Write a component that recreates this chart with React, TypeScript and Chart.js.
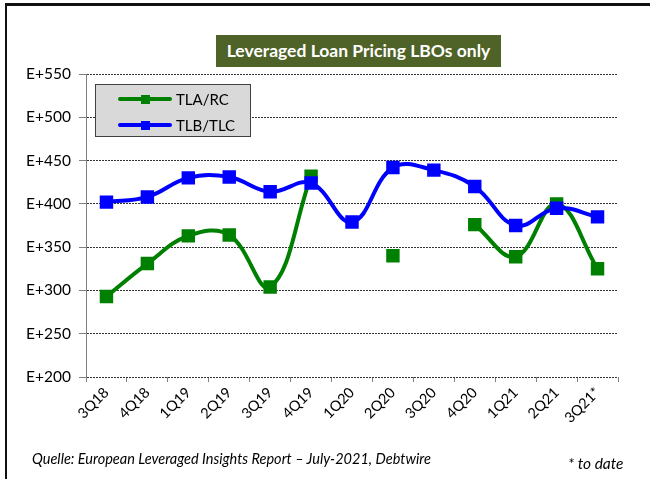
import React, { useEffect, useRef } from 'react';
import { Chart, registerables } from 'chart.js';

Chart.register(...registerables);

const categories = ['3Q18', '4Q18', '1Q19', '2Q19', '3Q19', '4Q19', '1Q20', '2Q20', '3Q20', '4Q20', '1Q21', '2Q21', '3Q21*'];
const tlaRc: (number | null)[] = [293, 331, 363, 364, 304, 432, null, 340, null, 376, 339, 400, 325];
const tlbTlc: number[] = [402, 408, 430, 431, 414, 424, 379, 442, 439, 420, 375, 395, 385];
const yMin = 200;
const yMax = 550;
const yStep = 50;
const tickPrefix = 'E+';
const seriesNames = ['TLA/RC', 'TLB/TLC'];
const titleText = 'Leveraged Loan Pricing LBOs only';
const sourceText = 'Quelle: European Leveraged Insights Report – July-2021, Debtwire';
const noteText = '* to date';

const GREEN = '#008000';
const BLUE = '#0000FF';
const FONT = 'Lato, "Open Sans", sans-serif';

export default function App() {
  const canvasRef = useRef<HTMLCanvasElement | null>(null);

  useEffect(() => {
    const canvas = canvasRef.current;
    if (!canvas) return;
    const chart = new Chart(canvas, {
      type: 'line',
      data: {
        labels: categories,
        datasets: [
          {
            label: seriesNames[0],
            data: tlaRc,
            borderColor: GREEN,
            backgroundColor: GREEN,
            borderWidth: 4,
            tension: 0.4,
            pointStyle: 'rect',
            pointRadius: 9.5,
            pointBorderWidth: 0,
            pointBackgroundColor: GREEN,
            spanGaps: false,
            order: 2,
          },
          {
            label: seriesNames[1],
            data: tlbTlc,
            borderColor: BLUE,
            backgroundColor: BLUE,
            borderWidth: 4,
            tension: 0.4,
            pointStyle: 'rect',
            pointRadius: 9.5,
            pointBorderWidth: 0,
            pointBackgroundColor: BLUE,
            order: 1,
          },
        ],
      },
      options: {
        animation: false,
        responsive: false,
        maintainAspectRatio: false,
        layout: { padding: { left: 10, top: 74, right: 32, bottom: 0 } },
        plugins: {
          legend: { display: false },
          title: { display: false },
          tooltip: { enabled: false },
        },
        scales: {
          x: {
            offset: true,
            grid: {
              offset: true,
              drawOnChartArea: false,
              drawTicks: true,
              tickLength: 5,
              tickColor: '#808080',
              color: '#808080',
            },
            border: { display: false },
            ticks: {
              minRotation: 45,
              maxRotation: 45,
              autoSkip: false,
              color: '#000',
              font: { family: FONT, size: 14.5 },
              padding: 2,
            },
            afterFit: (s: any) => {
              s.height = 102;
            },
          },
          y: {
            min: yMin,
            max: yMax,
            ticks: {
              stepSize: yStep,
              callback: (v: any) => tickPrefix + v,
              color: '#000',
              font: { family: FONT, size: 15.5 },
              padding: 8,
            },
            grid: {
              color: '#333',
              lineWidth: 1,
              tickColor: '#808080',
              tickLength: 7,
              tickBorderDash: [],
            },
            border: { display: true, color: '#808080', width: 1, dash: [2, 1] },
            afterFit: (s: any) => {
              s.width = 76;
            },
          },
        },
      },
    });
    return () => chart.destroy();
  }, []);

  return (
    <div
      style={{
        position: 'fixed',
        left: 0,
        top: 0,
        width: 650,
        height: 479,
        overflow: 'hidden',
        background: '#fff',
        fontFamily: FONT,
      }}
    >
      <canvas ref={canvasRef} width={650} height={479} style={{ position: 'absolute', left: 0, top: 0, width: 650, height: 479 }} />
      <div
        style={{
          position: 'absolute',
          left: 5,
          top: 3,
          width: 800,
          height: 800,
          borderTop: '3px solid #111',
          borderLeft: '2px solid #111',
        }}
      />
      <div
        style={{
          position: 'absolute',
          left: 216,
          top: 35,
          width: 285,
          height: 32,
          background: '#4F6228',
          color: '#fff',
          fontWeight: 700,
          fontSize: 17.5,
          lineHeight: '32px',
          textAlign: 'center',
          whiteSpace: 'nowrap',
        }}
      >
        {titleText}
      </div>
      <div
        style={{
          position: 'absolute',
          left: 95,
          top: 84,
          width: 154,
          height: 51,
          background: '#D9D9D9',
          border: '1px solid #404040',
        }}
      >
        {[GREEN, BLUE].map((c, i) => (
          <div key={i} style={{ position: 'absolute', left: 0, top: i === 0 ? 3 : 29, height: 22, width: 154 }}>
            <div style={{ position: 'absolute', left: 22, top: 9, width: 54, height: 4, background: c, borderRadius: 2 }} />
            <div style={{ position: 'absolute', left: 45, top: 6.5, width: 9, height: 9, background: c }} />
            <div
              style={{
                position: 'absolute',
                left: 80,
                top: 0,
                lineHeight: '22px',
                fontSize: 15,
                color: '#000',
                whiteSpace: 'nowrap',
              }}
            >
              {seriesNames[i]}
            </div>
          </div>
        ))}
      </div>
      <div
        style={{
          position: 'absolute',
          left: 32,
          top: 450,
          fontSize: 14.5,
          fontStyle: 'italic',
          lineHeight: '18px',
          color: '#000',
          whiteSpace: 'nowrap',
        }}
      >
        {sourceText}
      </div>
      <div
        style={{
          position: 'absolute',
          left: 568,
          top: 454,
          fontSize: 15.5,
          fontStyle: 'italic',
          lineHeight: '18px',
          color: '#000',
          whiteSpace: 'nowrap',
        }}
      >
        {noteText}
      </div>
    </div>
  );
}
